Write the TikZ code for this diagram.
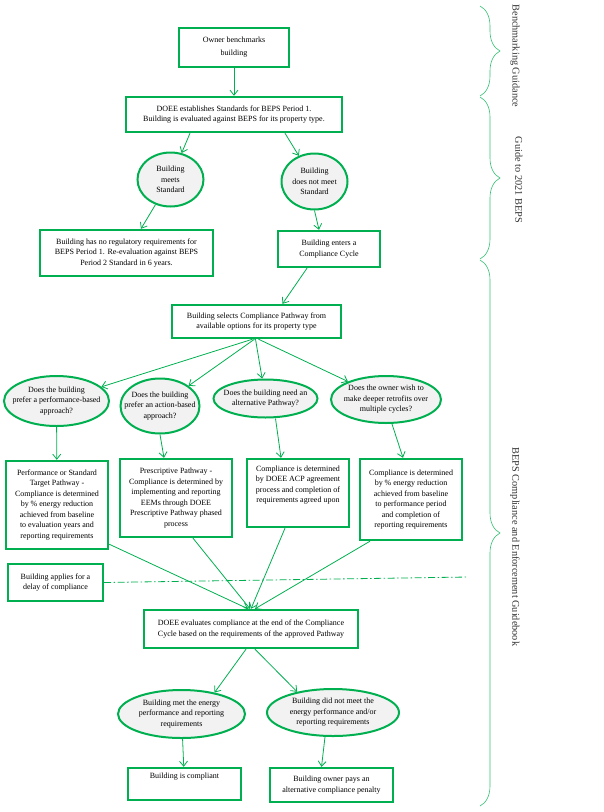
\documentclass[tikz,border=0pt]{standalone}
\usepackage{fontspec}
\setmainfont{Liberation Serif}
\usepackage{xcolor}
\usetikzlibrary{shapes.geometric, arrows.meta, positioning, decorations.pathreplacing}
\definecolor{bepsgreen}{RGB}{0,176,80}
\definecolor{askfill}{RGB}{242,242,242}

\begin{document}
\begin{tikzpicture}[x=1pt, y=-1pt,
    every node/.style={font=\fontsize{8}{10.5}\selectfont, align=center},
    box/.style={draw=bepsgreen, line width=2.4pt, fill=white, inner sep=1pt},
    ask/.style={draw=bepsgreen, line width=2pt, ellipse, fill=askfill, inner xsep=-15pt, inner ysep=-10pt},
    arr/.style={-{Straight Barb[length=5pt, width=8pt]}, bepsgreen, line width=0.8pt},
    brace/.style={decorate, decoration={brace, amplitude=20pt}, bepsgreen!80, line width=0.6pt},
    section/.style={rotate=-90, font=\fontsize{10.3}{12}\selectfont, text=black!80}]
    \useasboundingbox (0,0) rectangle (603,812);
    % Benchmarking
    \node[box, minimum width=110pt, minimum height=39pt] (owner) at (234,47.5) {Owner benchmarks\\[2.5pt]building};
    \node[box, minimum width=216pt, minimum height=35pt] (doee) at (234,114.5) {DOEE establishes Standards for BEPS Period 1.\\Building is evaluated against BEPS for its property type.};
    % Standard check
    \node[ask, minimum width=66pt, minimum height=54pt] (meets) at (170.5,179.5) {Building\\meets\\Standard};
    \node[ask, minimum width=66pt, minimum height=56pt] (notmeet) at (314.5,181.5) {Building\\does not meet\\Standard};
    \node[box, minimum width=173pt, minimum height=46pt] (noreq) at (126.5,253) {Building has no regulatory requirements for\\BEPS Period 1. Re-evaluation against BEPS\\Period 2 Standard in 6 years.};
    \node[box, minimum width=102pt, minimum height=36pt] (enters) at (329,249) {Building enters a\\Compliance Cycle};
    % Pathway selection
    \node[box, minimum width=169pt, minimum height=33pt] (selects) at (256.5,321.5) {Building selects Compliance Pathway from\\available options for its property type};
    % Questions
    \node[ask, minimum width=105pt, minimum height=50pt] (askA) at (56.5,401) {Does the building\\prefer a performance-based\\approach?};
    \node[ask, minimum width=79pt, minimum height=55pt] (askB) at (160,406) {Does the building\\prefer an action-based\\approach?};
    \node[ask, minimum width=104pt, minimum height=38pt] (askC) at (265.5,398.5) {Does the building need an\\alternative Pathway?};
    \node[ask, minimum width=110pt, minimum height=47pt] (askD) at (386,399.5) {Does the owner wish to\\make deeper retrofits over\\multiple cycles?};
    % Pathways
    \node[box, minimum width=102pt, minimum height=88pt] (pathA) at (57,505) {Performance or Standard\\Target Pathway -\\Compliance is determined\\by \% energy reduction\\achieved from baseline\\to evaluation years and\\reporting requirements};
    \node[box, minimum width=112pt, minimum height=78pt] (pathB) at (176,498) {Prescriptive Pathway -\\Compliance is determined by\\implementing and reporting\\EEMs through DOEE\\Prescriptive Pathway phased\\process};
    \node[box, minimum width=102pt, minimum height=68pt] (pathC) at (298,493) {Compliance is determined\\by DOEE ACP agreement\\process and completion of\\requirements agreed upon\\[7pt]};
    \node[box, minimum width=102pt, minimum height=81pt] (pathD) at (411,499.5) {Compliance is determined\\by \% energy reduction\\achieved from baseline\\to performance period\\and completion of\\reporting requirements};
    % Delay
    \node[box, minimum width=95pt, minimum height=37pt] (delay) at (55.5,582.5) {Building applies for a\\delay of compliance};
    \coordinate (dashend) at (468,577);
    % Evaluation
    \node[box, minimum width=214pt, minimum height=38pt] (evaluates) at (251,629) {DOEE evaluates compliance at the end of the Compliance\\Cycle based on the requirements of the approved Pathway};
    \node[ask, minimum width=127pt, minimum height=48pt] (metE) at (181.5,714) {Building met the energy\\performance and reporting\\requirements};
    \node[ask, minimum width=132pt, minimum height=47pt] (notmetF) at (333,712.5) {Building did not meet the\\energy performance and/or\\reporting requirements};
    \node[box, minimum width=113pt, minimum height=32pt] (compliant) at (184.5,784) {Building is compliant\\[6pt]};
    \node[box, minimum width=123pt, minimum height=34pt] (penalty) at (331.5,785) {Building owner pays an\\alternative compliance penalty};
    % Arrows
    \draw[arr] (owner) -- (doee);
    \draw[arr] ([xshift=-44pt]doee.south) -- (meets);
    \draw[arr] ([xshift=51pt]doee.south) -- (notmeet);
    \draw[arr] (meets) -- (noreq);
    \draw[arr] (notmeet.south) -- ([xshift=-10pt]enters.north);
    \draw[arr] ([xshift=-22pt]enters.south) -- ([xshift=26pt]selects.north);
    \foreach \q/\dx in {askA/-4, askB/-2, askC/-1, askD/2} {
        \draw[arr] ([xshift=\dx pt]selects.south) -- (\q);
    }
    \draw[arr] (askA) -- (pathA);
    \draw[arr] (askB.south) -- ([xshift=-12pt]pathB.north);
    \draw[arr] ([xshift=10pt]askC.south) -- ([xshift=-17pt]pathC.north);
    \draw[arr] ([xshift=6pt]askD.south) -- ([xshift=-8pt]pathD.north);
    \draw[arr] ([yshift=6pt]pathA.south east) -- ([xshift=-3pt]evaluates.north);
    \draw[arr] ([xshift=17pt]pathB.south) -- ([xshift=-1pt]evaluates.north);
    \draw[arr] ([xshift=-13pt]pathC.south) -- (evaluates.north);
    \draw[arr] ([xshift=-41pt]pathD.south) -- ([xshift=4pt]evaluates.north);
    \draw[bepsgreen, line width=0.8pt, dash pattern=on 7pt off 2.5pt on 1.5pt off 2.5pt] (delay.east) -- (dashend);
    \draw[arr] ([xshift=-5pt]evaluates.south) -- (metE.33);
    \draw[arr] ([xshift=4pt]evaluates.south) -- (notmetF.150);
    \draw[arr] (metE) -- (compliant);
    \draw[arr] ([xshift=-8pt]notmetF.south) -- ([xshift=-10pt]penalty.north);
    % Sections
    \draw[brace] (480,6) -- (480,96);
    \draw[brace] (480,97) -- (480,259);
    \draw[brace] (480,260) -- (480,806);
    \node[section] (bench) at (515,56) {Benchmarking Guidance};
    \node[section] (guide) at (519,180) {Guide to 2021 BEPS};
    \node[section] (enforce) at (515,547) {BEPS Compliance and Enforcement Guidebook};
\end{tikzpicture}
\end{document}
